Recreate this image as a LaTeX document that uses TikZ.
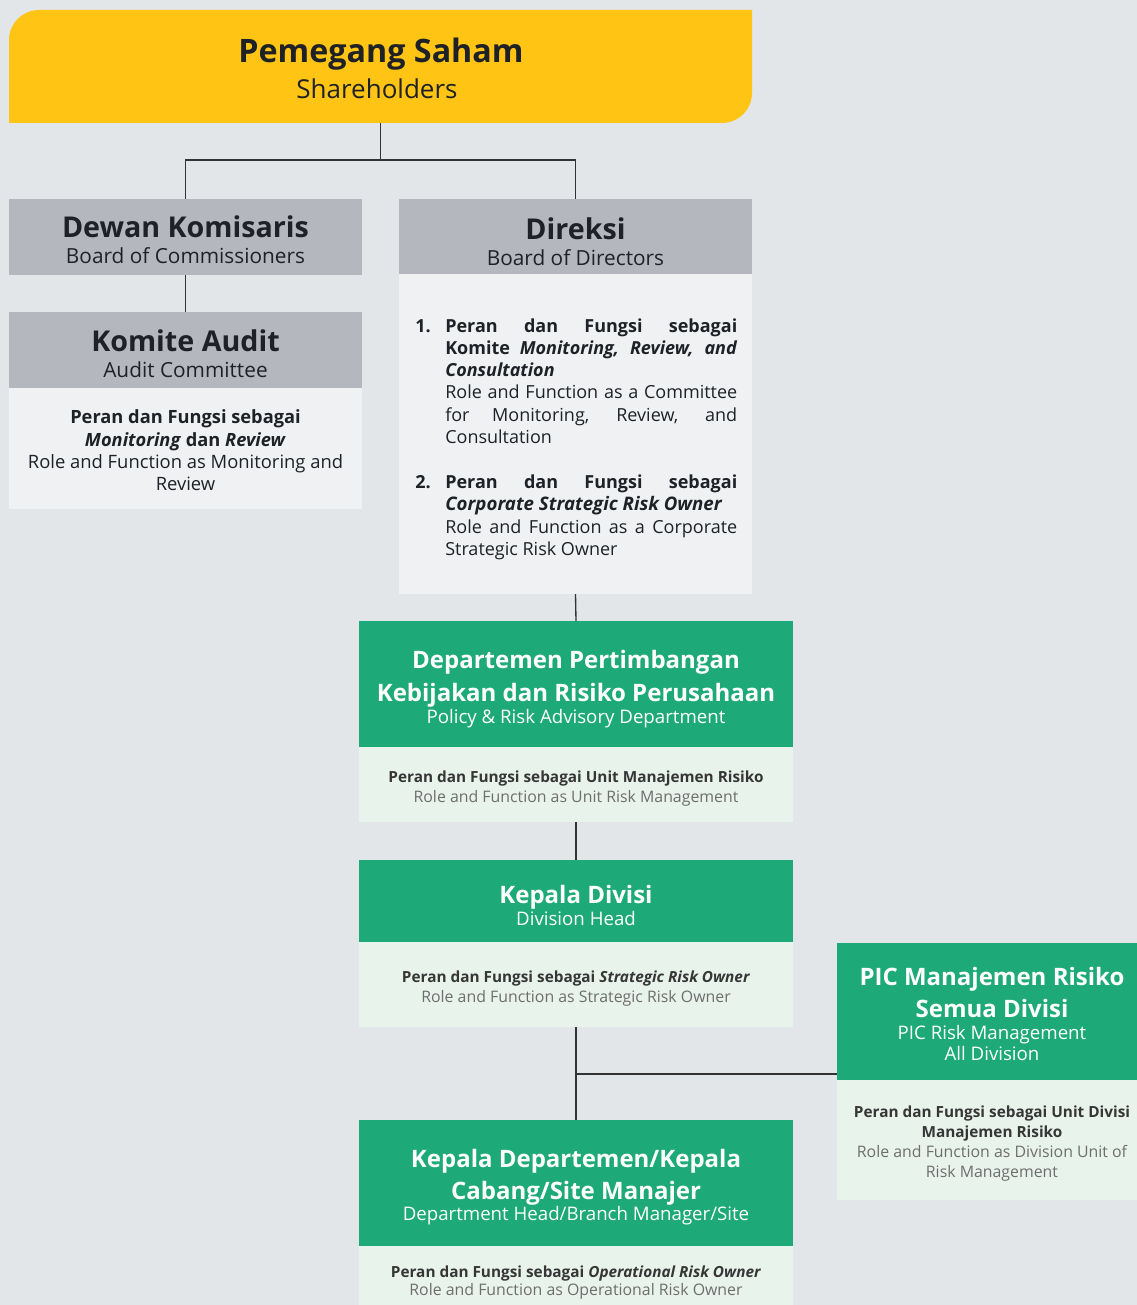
\documentclass[tikz,border=0pt]{standalone}
\usepackage{fontspec}
\setmainfont{Open Sans}
\usetikzlibrary{fit}
\definecolor{bg}{HTML}{E2E6E9}
\definecolor{yel}{HTML}{FFC414}
\definecolor{grayhd}{HTML}{B4B8BE}
\definecolor{lightbd}{HTML}{EFF1F3}
\definecolor{grn}{HTML}{1DAA78}
\definecolor{grnbd}{HTML}{E8F3EC}
\definecolor{ink}{HTML}{1E2226}
\definecolor{bodyink}{HTML}{363636}
\definecolor{bodygray}{HTML}{6E6E6E}
\definecolor{lineink}{HTML}{333333}
\newcommand\myfs[1]{\fontsize{#1}{1.2\dimexpr#1\relax}\selectfont}
\newcommand\jline[1]{\makebox[219pt][s]{#1}}
\begin{document}
\begin{tikzpicture}[x=0.75pt,y=-0.75pt,
  area/.style={inner sep=0pt,outer sep=0pt,draw=none},
  conn/.style={draw=lineink,line width=1pt},
  ln/.style={inner sep=0pt,anchor=base},
  lnw/.style={inner sep=0pt,anchor=base west},
  bigt/.style={ln,font=\myfs{24.2pt}\bfseries,text=ink},
  bigs/.style={ln,font=\myfs{19.5pt},text=ink},
  grayt/.style={ln,font=\myfs{21.5pt}\bfseries,text=ink},
  grays/.style={ln,font=\myfs{15.6pt},text=ink},
  bodyb/.style={ln,font=\myfs{13.7pt}\bfseries,text=ink},
  bodyr/.style={ln,font=\myfs{13.8pt},text=ink},
  itb/.style={lnw,font=\myfs{13.5pt}\bfseries,text=ink},
  itr/.style={lnw,font=\myfs{13.5pt},text=ink},
  grnt/.style={ln,font=\myfs{18pt}\bfseries,text=white},
  grns/.style={ln,font=\myfs{14pt},text=white},
  gbb/.style={ln,font=\myfs{11.5pt}\bfseries,text=bodyink},
  gbr/.style={ln,font=\myfs{11.9pt},text=bodygray}]
\fill[bg] (0,0) rectangle (1137,1305);
\useasboundingbox (0,0) rectangle (1137,1305);

% Shareholders
\fill[yel] (9,123) -- (9,40) .. controls (9,23.4) and (22.4,10) .. (39,10)
  -- (752,10) -- (752,93) .. controls (752,109.6) and (738.6,123) .. (722,123) -- cycle;
\node[area,fit={(9,10)(752,123)}] (sh) {};
\node[bigt] (sht) at (381,63) {Pemegang Saham};
\node[bigs] (shs) at (377,99) {Shareholders};

% Dewan Komisaris
\node[area,fill=grayhd,fit={(9,199)(362,275)}] (dk) {};
\node[grayt] (dkt) at (185.5,238) {Dewan Komisaris};
\node[grays] (dks) at (185.5,263) {Board of Commissioners};

% Komite Audit
\node[area,fill=grayhd,fit={(9,312)(362,388)}] (ka) {};
\node[area,fill=lightbd,fit={(9,388)(362,509)}] (kab) {};
\node[grayt] (kat) at (185.5,351) {Komite Audit};
\node[grays] (kas) at (185.5,377) {Audit Committee};
\node[bodyb] (kab1) at (185.5,423) {Peran dan Fungsi sebagai};
\node[bodyb] (kab2) at (185.5,446) {\textit{Monitoring} dan \textit{Review}};
\node[bodyr] (kab3) at (185.5,468) {Role and Function as Monitoring and};
\node[bodyr] (kab4) at (185.5,490) {Review};

% Direksi
\node[area,fill=grayhd,fit={(399,199)(752,274)}] (dir) {};
\node[area,fill=lightbd,fit={(399,274)(752,594)}] (dirb) {};
\node[grayt] (dirt) at (575.5,239) {Direksi};
\node[grays] (dirs) at (575.5,265) {Board of Directors};
\node[itb] (n1) at (415,332) {1.};
\node[itb] (i1a) at (445,332) {\jline{Peran dan Fungsi sebagai}};
\node[itb] (i1b) at (445,354) {\jline{Komite \textit{Monitoring, Review, and}}};
\node[itb] (i1c) at (445,376) {\textit{Consultation}};
\node[itr] (i1d) at (445,398) {\jline{Role and Function as a Committee}};
\node[itr] (i1e) at (445,421) {\jline{for Monitoring, Review, and}};
\node[itr] (i1f) at (445,443) {Consultation};
\node[itb] (n2) at (415,488) {2.};
\node[itb] (i2a) at (445,488) {\jline{Peran dan Fungsi sebagai}};
\node[itb] (i2b) at (445,510) {\textit{\fontsize{14pt}{16pt}\selectfont Corporate Strategic Risk Owner}};
\node[itr] (i2c) at (445,533) {\jline{Role and Function as a Corporate}};
\node[itr] (i2d) at (445,555) {Strategic Risk Owner};

% Departemen Pertimbangan
\node[area,fill=grn,fit={(359,621)(793,747)}] (dep) {};
\node[area,fill=grnbd,fit={(359,747)(793,822)}] (depb) {};
\node[grnt] (dept1) at (576,668) {Departemen Pertimbangan};
\node[grnt] (dept2) at (576,701) {Kebijakan dan Risiko Perusahaan};
\node[grns] (deps) at (576,723) {Policy \& Risk Advisory Department};
\node[gbb] (depb1) at (576,782) {Peran dan Fungsi sebagai Unit Manajemen Risiko};
\node[gbr] (depb2) at (576,802) {Role and Function as Unit Risk Management};

% Kepala Divisi
\node[area,fill=grn,fit={(359,860)(793,942)}] (kd) {};
\node[area,fill=grnbd,fit={(359,942)(793,1027)}] (kdb) {};
\node[grnt] (kdt) at (576,903) {Kepala Divisi};
\node[grns] (kds) at (576,925) {Division Head};
\node[gbb] (kdb1) at (576,982) {Peran dan Fungsi sebagai \textit{Strategic Risk Owner}};
\node[gbr] (kdb2) at (576,1002) {Role and Function as Strategic Risk Owner};

% PIC
\node[area,fill=grn,fit={(837,943)(1137,1080)}] (pic) {};
\node[area,fill=grnbd,fit={(837,1080)(1137,1200)}] (picb) {};
\node[grnt] (pict1) at (992,985) {PIC Manajemen Risiko};
\node[grnt] (pict2) at (992,1017) {Semua Divisi};
\node[grns] (pics1) at (992,1039) {PIC Risk Management};
\node[grns] (pics2) at (992,1060) {All Division};
\node[gbb] (picb1) at (992,1117) {Peran dan Fungsi sebagai Unit Divisi};
\node[gbb] (picb2) at (992,1137) {Manajemen Risiko};
\node[gbr] (picb3) at (992,1157) {Role and Function as Division Unit of};
\node[gbr] (picb4) at (992,1177) {Risk Management};

% Kepala Departemen
\node[area,fill=grn,fit={(359,1120)(793,1246)}] (kdep) {};
\node[area,fill=grnbd,fit={(359,1246)(793,1305)}] (kdepb) {};
\node[grnt] (kdept1) at (576,1167) {Kepala Departemen/Kepala};
\node[grnt] (kdept2) at (576,1199) {Cabang/Site Manajer};
\node[grns] (kdeps) at (576,1220) {Department Head/Branch Manager/Site};
\node[gbb] (kdepb1) at (576,1277) {Peran dan Fungsi sebagai \textit{Operational Risk Owner}};
\node[gbr] (kdepb2) at (576,1295) {Role and Function as Operational Risk Owner};

% connectors
\coordinate (jn) at (576,1074);
\draw[conn] (sh.south) -- ++(0,37) -| (dk.north);
\draw[conn] (sh.south) -- ++(0,37) -| (dir.north);
\draw[conn] (dk.south) -- (ka.north);
\draw[conn] (dirb.south) -- (dep.north);
\draw[conn] (depb.south) -- (kd.north);
\draw[conn] (kdb.south) -- (kdep.north);
\draw[conn] (jn) -- (jn -| pic.west);
\end{tikzpicture}
\end{document}
